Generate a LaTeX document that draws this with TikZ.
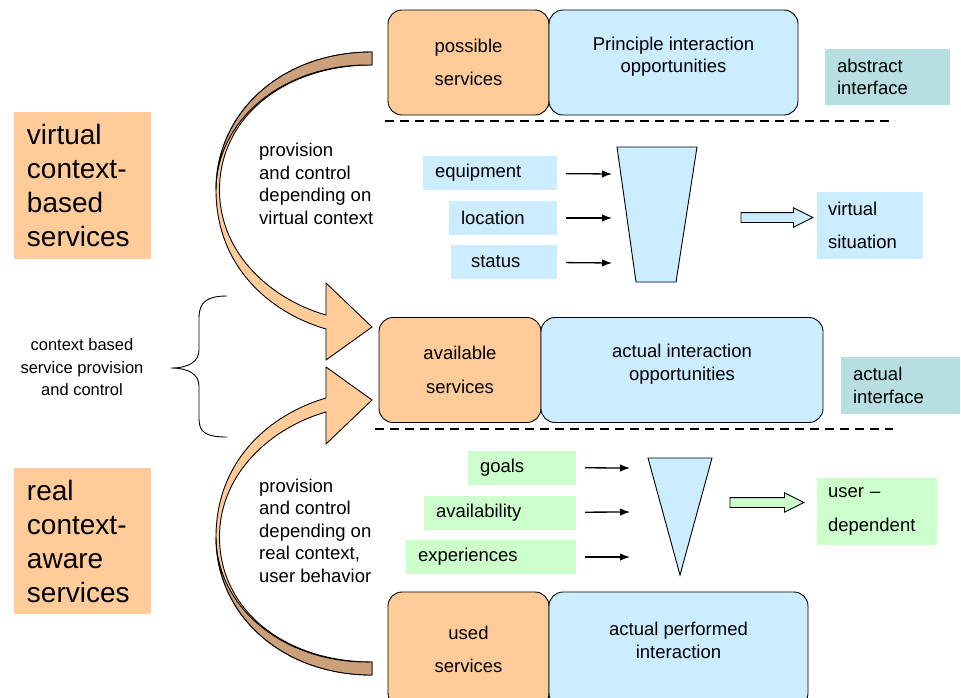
\documentclass[tikz,border=0pt]{standalone}
\usepackage{fontspec}
\setmainfont{Liberation Sans}
\usetikzlibrary{arrows.meta,shapes.arrows}
\definecolor{svc}{RGB}{255,204,153}
\definecolor{opp}{RGB}{204,236,255}
\definecolor{grn}{RGB}{204,255,204}
\definecolor{ifc}{RGB}{183,222,225}
\definecolor{back}{RGB}{204,160,122}
\newcommand{\txtsize}{\fontsize{18.5}{22.5}\selectfont}
\newcommand{\bigsize}{\fontsize{28}{34}\selectfont}
\newcommand{\smallsize}{\fontsize{16.5}{22.5}\selectfont}
\tikzset{
    svcbox/.style={
            draw,
            fill={#1},
            line width=0.9pt,
            rounded corners=14pt,
            minimum height=105pt,
            inner sep=0pt, % text sits in the middle
            align=center,
            font=\txtsize
        },
    svcbox/.default={svc}
}
\tikzset{
    lbl/.style={
            align=center,
            font=\txtsize,
            yshift={#1}
        },
    lbl/.default={6pt}
}
\tikzset{
    tagbox/.style={
            fill={#1},
            minimum height=34pt,
            inner xsep=12pt,
            inner ysep=0pt,
            align=left,
            font=\txtsize
        },
    tagbox/.default={opp}
}
\tikzset{
    bigtag/.style={
            fill=svc,
            minimum width=137pt,
            text width=111pt,
            inner xsep=13pt,
            align=left,
            font=\bigsize
        }
}
\tikzset{
    note/.style={
            inner sep=0pt,
            align=left,
            font=\txtsize
        }
}
\tikzset{
    inarrow/.style={
            line width=1.3pt,
            -{Latex[length=10pt,width=7.5pt]},
            shorten <=9pt
        }
}
\tikzset{
    blockarrow/.style={
            single arrow,
            draw,
            fill={#1},
            line width=0.9pt,
            minimum height=72pt,
            inner xsep=0pt,
            inner ysep=4.5pt,
            single arrow head extend=4.75pt,
            single arrow tip angle=53
        },
    blockarrow/.default={opp}
}
\tikzset{
    funnel/.style={
            draw,
            fill=opp,
            line width=0.9pt
        }
}
\tikzset{
    sepline/.style={
            line width=1.8pt,
            dash pattern=on 9pt off 6pt
        }
}
\newcommand{\bentarrow}{%
    % front of the band, with the head
    \draw[fill=svc, line width=0.9pt] (372,52)
    .. controls (282,52) and (216,112) .. (216,190)
    .. controls (216,265) and (268,312) .. (326,329)
    -- (326,360) -- (372,327) -- (326,283) -- (326,315)
    .. controls (273,300) and (219.5,255) .. (219.5,190)
    .. controls (219.5,116) and (286,65) .. (372,65) -- cycle;
    % back of the band
    \draw[fill=back, line width=0.9pt] (372,52)
    .. controls (282,52) and (216,112) .. (216,190)
    .. controls (216.5,118) and (286,63) .. (372,65) -- cycle;
}

\begin{document}
\begin{tikzpicture}[x=1pt, y=-1pt]
    \useasboundingbox (0,0) rectangle (961,697);
    \clip (0,0) rectangle (961,697);
    %
    \bentarrow
    \begin{scope}[shift={(0,727)}, yscale=-1]
        \bentarrow
    \end{scope}
    %
    \node (poss) [svcbox, minimum width=161pt] at (468.5,62.5) {possible\\[11pt]services};
    \node (prin) [svcbox=opp, minimum width=249pt,
        label={[lbl]center:Principle interaction\\opportunities}] at (673.5,62.5) {};
    \node (avl) [svcbox, minimum width=162pt] at (460,370) {available\\[11pt]services};
    \node (act) [svcbox=opp, minimum width=282pt,
        label={[lbl]center:actual interaction\\opportunities}] at (682,370) {};
    \node (used) [svcbox, minimum width=161pt, minimum height=115pt] at (468.5,649.5) {used\\[11pt]services};
    \node (perf) [svcbox=opp, minimum width=259pt, minimum height=115pt,
        label={[lbl=9pt]center:actual performed\\interaction}] at (678.5,649.5) {};
    %
    \node (absif) [tagbox=ifc, text width=101pt, minimum height=56pt] at (887.5,77) {abstract\\interface};
    \node (actif) [tagbox=ifc, text width=95pt, minimum height=57pt] at (900.5,385.5) {actual\\interface};
    %
    \draw[sepline] (385,121) -- (895,121);
    \draw[sepline] (375,429) -- (893,429);
    %
    \node (virt) [bigtag, minimum height=147pt] at (82.5,185.5) {virtual\\context-\\based\\services};
    \node (real) [bigtag, minimum height=146pt] at (82.5,541) {real\\context-\\aware\\services};
    %
    \node (provV) [note, anchor=west] at (259,184) {provision\\and control\\depending on\\virtual context};
    \node (provR) [note, anchor=west] at (259,530.5) {provision\\and control\\depending on\\real context,\\user behavior};
    %
    \node (ctx) [note, font=\smallsize, align=center] at (82,367.5) {context based\\service provision\\and control};
    \draw[line width=0.9pt] (227,296) .. controls (207,296) and (199,302) .. (199,318)
    -- (199,350) .. controls (199,362) and (188,368) .. (171,368)
    .. controls (188,368) and (199,374) .. (199,386)
    -- (199,419) .. controls (199,433) and (207,437) .. (227,437);
    %
    % virtual situation
    \node (equip) [tagbox, text width=110pt] at (490,173) {equipment};
    \node (loc) [tagbox, text width=84pt] at (503,218) {location};
    \node (stat) [tagbox, text width=66pt, inner xsep=20pt] at (504,262) {status};
    \coordinate (fin1) at (612,174);
    \coordinate (fin2) at (612,218);
    \coordinate (fin3) at (612,263);
    \draw[inarrow] (equip) -- (fin1);
    \draw[inarrow] (loc) -- (fin2);
    \draw[inarrow] (stat) -- (fin3);
    \draw[funnel] (617,147) -- (697,147) -- (676,282) -- (636,282) -- cycle;
    \node (toVsit) [blockarrow] at (772,217.5) {};
    \node (vsit) [tagbox, text width=84pt, inner xsep=11pt, minimum height=67pt] at (870,225.5) {virtual\\[11pt]situation};
    %
    % user dependent
    \node (goals) [tagbox=grn, text width=84pt] at (522,467.5) {goals};
    \node (avail) [tagbox=grn, text width=128pt] at (500,512.5) {availability};
    \node (exper) [tagbox=grn, text width=146pt] at (491,557) {experiences};
    \coordinate (tin1) at (630,468);
    \coordinate (tin2) at (630,512);
    \coordinate (tin3) at (630,557);
    \draw[inarrow] (goals) -- (tin1);
    \draw[inarrow] (avail) -- (tin2);
    \draw[inarrow] (exper) -- (tin3);
    \draw[funnel] (648,458) -- (712,458) -- (680,575) -- cycle;
    \node (toUdep) [blockarrow=grn, minimum height=74pt] at (762,502.5) {};
    \node (udep) [tagbox=grn, text width=98pt, inner xsep=11pt, minimum height=67pt] at (877,511.5) {user –\\[11pt]dependent};
\end{tikzpicture}
\end{document}
